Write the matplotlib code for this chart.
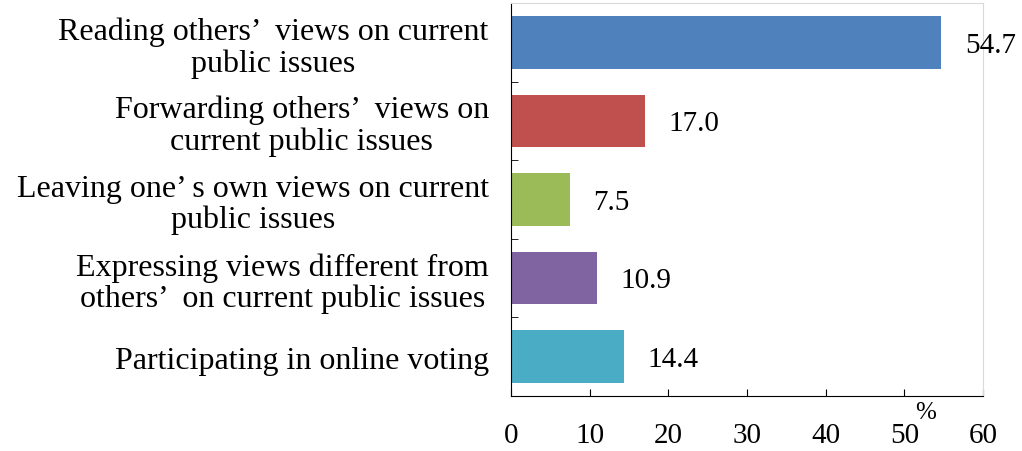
import matplotlib.pyplot as plt
import numpy as np

plt.rcParams['font.family'] = ['Liberation Serif', 'DejaVu Sans']

# online participation in public issues (%)
categories = [
    "Reading others’  views on current\npublic issues",
    "Forwarding others’  views on\ncurrent public issues",
    "Leaving one’ s own views on current\npublic issues",
    "Expressing views different from\nothers’  on current public issues",
    "Participating in online voting",
]
values = [54.7, 17.0, 7.5, 10.9, 14.4]
colors = ["#4F81BD", "#C0504D", "#9BBB59", "#8064A2", "#4BACC6"]
xticks = [0, 10, 20, 30, 40, 50, 60]

fig = plt.figure(figsize=(10.22, 4.52), dpi=100)
ax = fig.add_axes([0.5, 0.1217, 0.4618, 0.8695])

y = np.arange(len(values))
ax.barh(y, values, height=0.67, color=colors)

for yi, v in zip(y, values):
    ax.text(v + 3.0, yi + 0.03, f"{v:.1f}", va="center", ha="left", fontsize=21)

ax.set_xlim(0, 60)
ax.set_ylim(len(values) - 0.5, -0.5)

ax.set_xticks(xticks)
ax.set_xticklabels([str(t) for t in xticks], fontsize=21)
ax.tick_params(axis="x", direction="in", length=5, pad=19, color="black")

ax.set_yticks(y)
ax.set_yticklabels(categories, fontsize=23, linespacing=1.1, ha="right",
                   multialignment="center")
ax.tick_params(axis="y", which="major", length=0, pad=16)
ax.set_yticks(np.arange(-0.5, len(values), 1.0), minor=True)
ax.tick_params(axis="y", which="minor", direction="in", length=5, color="black")

ax.spines["left"].set_color("black")
ax.spines["bottom"].set_color("black")
ax.spines["top"].set_color("#d9d9d9")
ax.spines["right"].set_color("#d9d9d9")

# unit marker just above the 50 tick label
ax.text(52.7, -0.04, "%", transform=ax.get_xaxis_transform(), ha="center",
        va="center", fontsize=18)

fig.savefig("out.png", dpi=100)
